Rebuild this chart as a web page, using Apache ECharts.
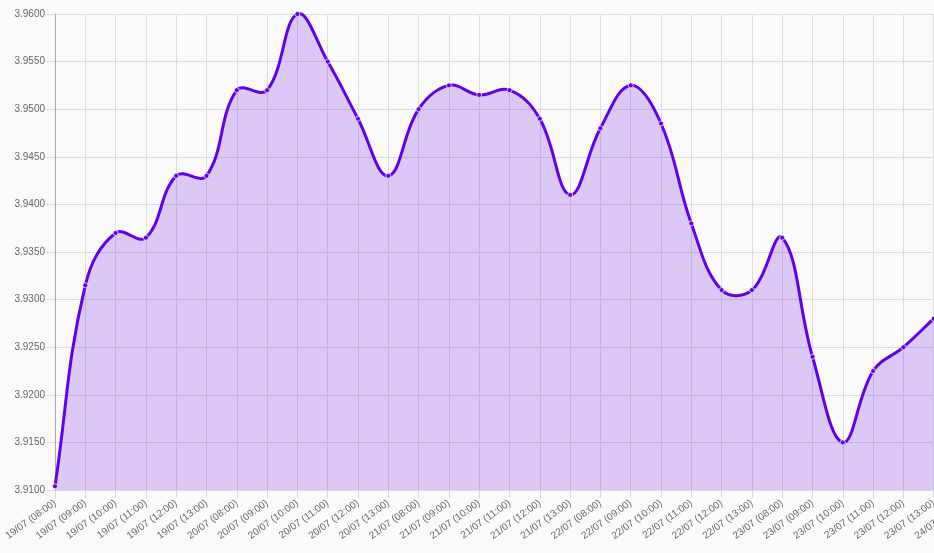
<!DOCTYPE html>
<html>
<head>
<meta charset="utf-8">
<script src="https://cdn.jsdelivr.net/npm/echarts@6/dist/echarts.min.js"></script>
<style>
html,body{margin:0;padding:0;background:#fafafa;overflow:hidden;}
#chart{width:934px;height:553px;}
</style>
</head>
<body>
<div id="chart"></div>
<script>
var categories = [
  "19/07 (08:00)","19/07 (09:00)","19/07 (10:00)","19/07 (11:00)","19/07 (12:00)","19/07 (13:00)",
  "20/07 (08:00)","20/07 (09:00)","20/07 (10:00)","20/07 (11:00)","20/07 (12:00)","20/07 (13:00)",
  "21/07 (08:00)","21/07 (09:00)","21/07 (10:00)","21/07 (11:00)","21/07 (12:00)","21/07 (13:00)",
  "22/07 (08:00)","22/07 (09:00)","22/07 (10:00)","22/07 (11:00)","22/07 (12:00)","22/07 (13:00)",
  "23/07 (08:00)","23/07 (09:00)","23/07 (10:00)","23/07 (11:00)","23/07 (12:00)","23/07 (13:00)",
  "24/07 (08:00)"
];
var rates = [
  3.9104, 3.9315, 3.9370, 3.9365, 3.9430, 3.9430,
  3.9520, 3.9520, 3.9600, 3.9550, 3.9490, 3.9430,
  3.9500, 3.9525, 3.9515, 3.9520, 3.9490, 3.9410,
  3.9480, 3.9525, 3.9485, 3.9380, 3.9310, 3.9310,
  3.9365, 3.9240, 3.9150, 3.9225, 3.9250, 3.9280
];
var yMin = 3.91, yMax = 3.96, yStep = 0.005;

// Cardinal-style spline (tension 0.4) through points given in pixel space
function splinePath(pts, t) {
  var n = pts.length, cps = [];
  for (var i = 0; i < n; i++) {
    var p = pts[i], a = pts[Math.max(0, i - 1)], b = pts[Math.min(n - 1, i + 1)];
    var d01 = Math.hypot(p[0] - a[0], p[1] - a[1]);
    var d12 = Math.hypot(b[0] - p[0], b[1] - p[1]);
    var s01 = d01 / (d01 + d12), s12 = d12 / (d01 + d12);
    if (!isFinite(s01)) s01 = 0;
    if (!isFinite(s12)) s12 = 0;
    var fa = t * s01, fb = t * s12;
    cps.push({
      prev: [p[0] - fa * (b[0] - a[0]), p[1] - fa * (b[1] - a[1])],
      next: [p[0] + fb * (b[0] - a[0]), p[1] + fb * (b[1] - a[1])]
    });
  }
  var d = 'M' + pts[0][0] + ' ' + pts[0][1];
  for (var j = 1; j < n; j++) {
    var c0 = cps[j - 1].next, c1 = cps[j].prev, q = pts[j];
    d += ' C' + c0[0] + ' ' + c0[1] + ' ' + c1[0] + ' ' + c1[1] + ' ' + q[0] + ' ' + q[1];
  }
  return d;
}

var chart = echarts.init(document.getElementById('chart'), null, {renderer:'canvas'});
chart.setOption({
  backgroundColor: '#fafafa',
  animation: false,
  grid: {left: 55, right: -30, top: 14, bottom: 63, containLabel: false, outerBoundsMode: 'none'},
  xAxis: {
    type: 'category',
    data: categories,
    boundaryGap: false,
    axisLine: {show: true, lineStyle: {color: '#d8d8d8', width: 1}},
    axisTick: {show: true, length: 8, alignWithLabel: true, lineStyle: {color: '#d8d8d8'}},
    axisLabel: {rotate: 36, interval: 0, margin: 12, color: '#666', fontSize: 10, fontFamily: 'Liberation Sans, Arial, sans-serif', hideOverlap: false},
    splitLine: {show: true, interval: 0, lineStyle: {color: '#dddddd', width: 1}}
  },
  yAxis: {
    type: 'value',
    min: yMin, max: yMax, interval: yStep,
    axisLine: {show: true, lineStyle: {color: '#a8a8a8', width: 1}},
    axisTick: {show: true, length: 9, lineStyle: {color: '#dddddd'}},
    axisLabel: {margin: 10, color: '#666', fontSize: 10, fontFamily: 'Liberation Sans, Arial, sans-serif',
      formatter: function(v){ return v.toFixed(4); }},
    splitLine: {show: true, lineStyle: {color: '#dddddd', width: 1}}
  },
  series: [{
    type: 'custom',
    data: [[0, rates[0]]],
    silent: true,
    z: 2,
    renderItem: function (params, api) {
      var pts = rates.map(function (v, i) { return api.coord([i, v]); });
      var base = api.coord([0, yMin])[1];
      var line = splinePath(pts, 0.4);
      var last = pts[pts.length - 1];
      var area = line + ' L' + last[0] + ' ' + base + ' L' + pts[0][0] + ' ' + base + ' Z';
      return {
        type: 'group',
        children: [
          {type: 'path', shape: {pathData: area}, style: {fill: 'rgba(98,0,234,0.2)', stroke: null}},
          {type: 'path', shape: {pathData: line}, style: {fill: null, stroke: '#6200ea', lineWidth: 3, lineJoin: 'round'}}
        ]
      };
    }
  }, {
    type: 'line',
    data: rates,
    z: 3,
    symbol: 'circle',
    symbolSize: 5,
    showSymbol: true,
    lineStyle: {opacity: 0, width: 0},
    itemStyle: {color: '#6200ea', borderColor: 'rgba(255,255,255,0.7)', borderWidth: 1}
  }]
});
</script>
</body>
</html>
